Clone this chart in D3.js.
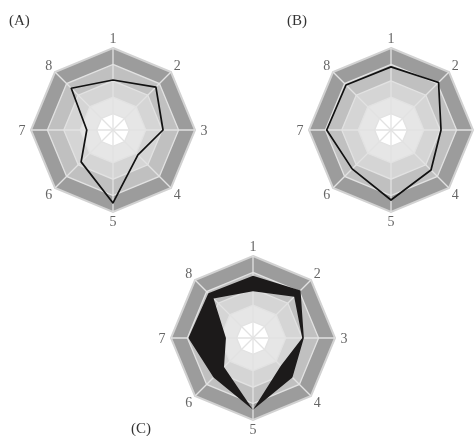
<!DOCTYPE html>
<html>
<head>
<meta charset="utf-8">
<script src="https://cdn.jsdelivr.net/npm/d3@7"></script>
<style>
  body { margin: 0; background: #fff; }
  svg { display: block; will-change: transform; }
  .oznaka { font-family: "Liberation Serif", "DejaVu Serif", serif; }
</style>
</head>
<body>
<div id="okvir"></div>
<script>
// podaci ocitani sa slike (skala 0-5)
const osi = ["1", "2", "3", "4", "5", "6", "7", "8"]
const razine = [1, 2, 3, 4, 5]
const uzorakA = [3.05, 3.7, 3.05, 2.15, 4.45, 2.75, 1.6, 3.6]
const uzorakB = [3.85, 4.1, 3.05, 3.45, 4.27, 3.35, 3.92, 3.88]
const usporedbaUnutra = [2.85, 3.55, 3.0, 2.4, 4.37, 2.5, 1.65, 3.4]
const usporedbaVani = [3.8, 4.1, 3.1, 3.4, 4.37, 3.4, 3.94, 3.85]

const dimenzije = { sirina: 476, visina: 436, radijus: 82 }

const bojeRazina = ["#ffffff", "#e6e6e6", "#d5d5d5", "#c0c0c0", "#9c9c9c"]

const okvir = d3.select("#okvir")
  .append("svg")
    .attr("width", dimenzije.sirina)
    .attr("height", dimenzije.visina)

const rSkala = d3.scaleLinear()
  .domain([0, 5])
  .range([0, dimenzije.radijus])

const kutSkala = d3.scaleLinear()
  .domain([0, osi.length])
  .range([0, 2 * Math.PI])

const radijalna = d3.lineRadial()
  .angle((d, i) => kutSkala(i))
  .radius(d => rSkala(d))
  .curve(d3.curveLinearClosed)

const tocka = (i, v) => {
  const a = kutSkala(i)
  return [Math.sin(a) * rSkala(v), -Math.cos(a) * rSkala(v)]
}

function crtajMrezu(cx, cy) {
  const g = okvir.append("g")
      .attr("transform", `translate(${cx},${cy})`)

  // pojasevi od vanjskog prema unutra
  razine.slice().reverse().forEach(r => {
    g.append("path")
        .attr("d", radijalna(osi.map(() => r)))
        .attr("fill", bojeRazina[r - 1])
  })

  return g
}

function crtajLinije(g) {
  razine.forEach(r => {
    g.append("path")
        .attr("d", radijalna(osi.map(() => r)))
        .attr("fill", "none")
        .attr("stroke", r == 5 ? "#d2d2d2" : "#e2e2e2")
        .attr("stroke-width", r == 5 ? 2 : 1.3)
  })
  g.selectAll(".zraka")
    .data(osi)
    .join("line")
      .attr("class", "zraka")
      .attr("x1", 0)
      .attr("y1", 0)
      .attr("x2", (d, i) => tocka(i, 5)[0])
      .attr("y2", (d, i) => tocka(i, 5)[1])
      .attr("stroke", "#e2e2e2")
      .attr("stroke-width", 1.3)

  g.selectAll(".os-oznaka")
    .data(osi)
    .join("text")
      .attr("class", "oznaka os-oznaka")
      .attr("x", (d, i) => tocka(i, 5.55)[0])
      .attr("y", (d, i) => tocka(i, 5.55)[1])
      .attr("text-anchor", "middle")
      .attr("dominant-baseline", "central")
      .attr("font-size", 14)
      .attr("fill", "#666")
      .text(d => d)
}

function crtajPanel(cx, cy, niz) {
  const g = crtajMrezu(cx, cy)
  crtajLinije(g)
  g.append("path")
      .attr("d", radijalna(niz))
      .attr("fill", "none")
      .attr("stroke", "#111")
      .attr("stroke-width", 1.7)
      .attr("stroke-linejoin", "round")
}

crtajPanel(113, 130, uzorakA)
crtajPanel(391, 130, uzorakB)

// panel C: razlika dva uzorka crno ispunjena
const gC = crtajMrezu(253, 338)
crtajLinije(gC)
gC.append("path")
    .attr("d", radijalna(usporedbaVani) + radijalna(usporedbaUnutra))
    .attr("fill", "#1c1a1a")
    .attr("fill-rule", "evenodd")

const panelOznake = [["(A)", 9, 25], ["(B)", 287, 25], ["(C)", 131, 433]]
okvir.selectAll(".panel")
  .data(panelOznake)
  .join("text")
    .attr("class", "oznaka panel")
    .attr("x", d => d[1])
    .attr("y", d => d[2])
    .attr("font-size", 15)
    .attr("fill", "#333")
    .text(d => d[0])
</script>
</body>
</html>
